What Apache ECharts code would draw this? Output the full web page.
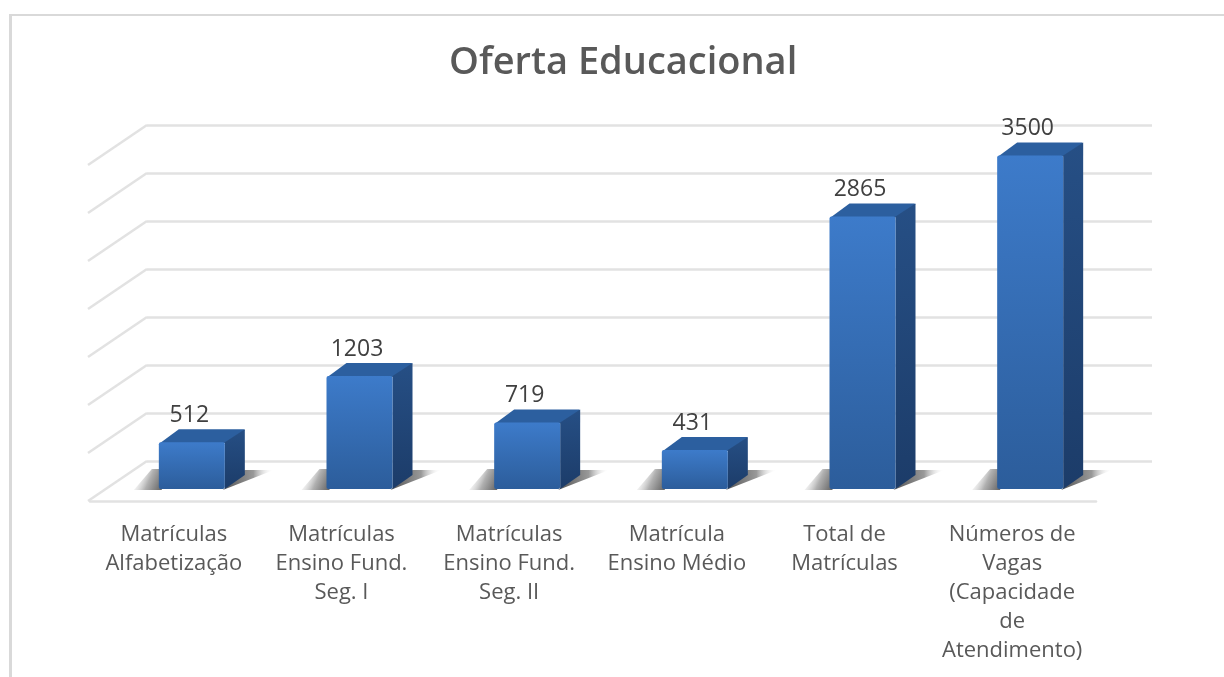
<!DOCTYPE html>
<html><head><meta charset="utf-8">
<script src="https://cdn.jsdelivr.net/npm/echarts@6/dist/echarts.min.js"></script>
<style>html,body{margin:0;padding:0;background:#fff}#c{width:1224px;height:677px}</style>
</head><body><div id="c"></div>
<script>
const categories = ['Matrículas\nAlfabetização','Matrículas\nEnsino Fund.\nSeg. I','Matrículas\nEnsino Fund.\nSeg. II','Matrícula\nEnsino Médio','Total de\nMatrículas','Números de\nVagas\n(Capacidade\nde\nAtendimento)'];
const values = [512,1203,719,431,2865,3500];
const gridValues = [0,500,1000,1500,2000,2500,3000,3500];

const TXT='#595959', LINE='#e2e2e2', FONT='"Open Sans"';
const DX=59, DY=40;            // wall depth
const BW=66, BDX=20, BDY=13;   // bar width and depth
const FX=18, FY=28;            // bar front plane relative to back plane

function renderWall(params, api){
  const p = api.coord([0, api.value(0)]);
  const x0 = params.coordSys.x;
  return {type:'line', shape:{x1:x0, y1:p[1], x2:x0-DX, y2:p[1]+DY},
          style:{stroke:LINE, lineWidth:2.5}, silent:true};
}
function linear(x1,y1,x2,y2,c1,c2){return new echarts.graphic.LinearGradient(x1,y1,x2,y2,[{offset:0,color:c1},{offset:1,color:c2}]);}

function renderBar(params, api){
  const c = api.coord([api.value(0), api.value(1)]);
  const b = api.coord([api.value(0), 0]);
  const cx = c[0]+FX, l = cx-BW/2, r = cx+BW/2;
  const top = c[1]+FY+2.5, bot = b[1]+FY;
  return {type:'group', children:[
    {type:'polygon', shape:{points:[[l-25,bot+1],[l+3,bot+1],[l+3,bot-20],[l-7,bot-20]]},
      style:{fill:new echarts.graphic.LinearGradient(1,0.8,0,0.2,[{offset:0,color:'#6a6a6a'},{offset:0.45,color:'#b0b0b0'},{offset:1,color:'rgba(255,255,255,0)'}])}, silent:true},
    {type:'polygon', shape:{points:[[r-2,bot+1],[r+BDX,bot-19],[r+BDX+29,bot-19]]},
      style:{fill:new echarts.graphic.LinearGradient(0,0,1,0,[{offset:0,color:'#555'},{offset:0.6,color:'#999'},{offset:1,color:'rgba(255,255,255,0)'}])}, silent:true},
    {type:'polygon', shape:{points:[[l+1,top+1],[l+BDX,top-BDY],[r+BDX-1,top-BDY],[r+BDX,top-BDY+1],[r,top+1]]},
      style:{fill:'#2c5f9f'}},
    {type:'polygon', shape:{points:[[r,top],[r+BDX,top-BDY],[r+BDX,bot-BDY-1],[r,bot]]},
      style:{fill:linear(0,0,0,1,'#264f85','#1c3c69')}},
    {type:'rect', shape:{x:l,y:top,width:BW,height:bot-top,r:2},
      style:{fill:linear(0,0,0,1,'#3d7bca','#2c5d9b')}},
    {type:'text', style:{text:String(api.value(1)), x:cx-2.5, y:top-BDY-14, align:'center', verticalAlign:'middle',
      font:'23px '+FONT, fill:'#404040'}}
  ]};
}

const chart = echarts.init(document.getElementById('c'), null, {renderer:'canvas'});
chart.setOption({
  animation:false,
  backgroundColor:'#fff',
  title:{text:'Oferta Educacional', left:444, top:39,
    textStyle:{fontFamily:FONT, fontSize:38, fontWeight:600, color:TXT}},
  grid:[
    {left:147, top:125, width:1005, height:336},
    {left:90, top:125, width:1006, height:336}
  ],
  xAxis:[
    {gridIndex:0, type:'category', data:categories, show:false},
    {gridIndex:1, type:'category', data:categories, offset:40,
      axisTick:{show:false},
      axisLine:{show:true, onZero:false, lineStyle:{color:LINE, width:2.5}},
      axisLabel:{interval:0, margin:19, fontFamily:FONT, fontSize:22, lineHeight:29, color:TXT}}
  ],
  yAxis:[
    {gridIndex:0, type:'value', min:0, max:3500, interval:500,
      axisLine:{show:false}, axisTick:{show:false}, axisLabel:{show:false},
      splitLine:{show:true, lineStyle:{color:LINE, width:2.5}}},
    {gridIndex:1, type:'value', min:0, max:3500, interval:500, show:false, splitLine:{show:false}}
  ],
  series:[
    {type:'custom', name:'walls', xAxisIndex:0, yAxisIndex:0, silent:true, clip:false, z:1,
      data:gridValues.map(v=>[v]), encode:{y:0}, renderItem:renderWall},
    {type:'custom', name:'Oferta', xAxisIndex:1, yAxisIndex:1, clip:false, z:3,
      data:values.map((v,i)=>[i,v]), encode:{x:0,y:1}, renderItem:renderBar}
  ],
  graphic:[
    {type:'rect', shape:{x:10,y:14,width:1214,height:2}, style:{fill:'#d9d9d9'}, silent:true},
    {type:'rect', shape:{x:9,y:14,width:3,height:663}, style:{fill:'#d9d9d9'}, silent:true}
  ]
});
</script></body></html>
